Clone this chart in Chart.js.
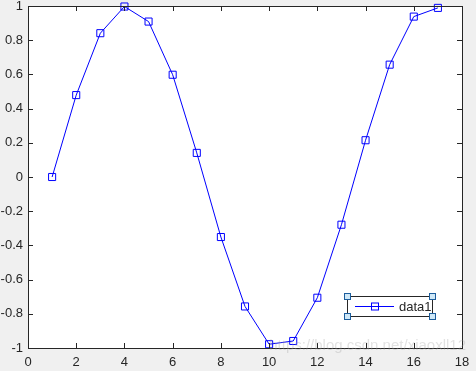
<!DOCTYPE html>
<html>
<head>
<meta charset="utf-8">
<script src="https://cdn.jsdelivr.net/npm/chart.js@4"></script>
<style>
    html, body { margin: 0; padding: 0; background: #f0f0f0; }
    #wrap { width: 476px; height: 371px; }
</style>
</head>
<body>
<div id="wrap"><canvas id="plot" width="476" height="371"></canvas></div>
<script>
// values
const xValues = [1, 2, 3, 4, 5, 6, 7, 8, 9, 10, 11, 12, 13, 14, 15, 16, 17];
const yValues = [0, 0.479, 0.841, 0.997, 0.909, 0.598, 0.141, -0.351, -0.757, -0.978, -0.959, -0.706, -0.279, 0.215, 0.657, 0.938, 0.989];
const xTicks = [0, 2, 4, 6, 8, 10, 12, 14, 16, 18];
const yTicks = [-1, -0.8, -0.6, -0.4, -0.2, 0, 0.2, 0.4, 0.6, 0.8, 1];
const seriesName = 'data1';

const textColor = '#262626';
const lineColor = '#0000ff';

// white axes box + inward ticks on all four sides
const boxPlugin = {
    id: 'box',
    beforeDatasetsDraw(chart) {
        const ctx = chart.ctx;
        const a = chart.chartArea;
        ctx.save();
        ctx.fillStyle = '#ffffff';
        ctx.fillRect(a.left, a.top, a.right - a.left, a.bottom - a.top);
        ctx.restore();
    },
    afterDatasetsDraw(chart) {
        const ctx = chart.ctx;
        const a = chart.chartArea;
        const xs = chart.scales.x;
        const ys = chart.scales.y;
        const len = 5;
        ctx.save();
        ctx.strokeStyle = textColor;
        ctx.lineWidth = 1;
        ctx.beginPath();
        xTicks.forEach(function(v) {
            const px = Math.round(xs.getPixelForValue(v)) + 0.5;
            ctx.moveTo(px, a.bottom); ctx.lineTo(px, a.bottom - len);
            ctx.moveTo(px, a.top); ctx.lineTo(px, a.top + len);
        });
        yTicks.forEach(function(v) {
            const py = Math.round(ys.getPixelForValue(v)) + 0.5;
            ctx.moveTo(a.left, py); ctx.lineTo(a.left + len, py);
            ctx.moveTo(a.right, py); ctx.lineTo(a.right - len, py);
        });
        ctx.stroke();
        ctx.strokeRect(Math.round(a.left) + 0.5, Math.round(a.top) + 0.5,
            Math.round(a.right - a.left), Math.round(a.bottom - a.top));
        ctx.restore();
    }
};

// MATLAB style legend, selected (with corner handles)
const legendPlugin = {
    id: 'matLegend',
    afterDraw(chart) {
        const ctx = chart.ctx;
        const x0 = 347.5, y0 = 296.5, w = 85, h = 20;
        ctx.save();
        ctx.fillStyle = '#ffffff';
        ctx.fillRect(x0, y0, w, h);
        ctx.strokeStyle = '#262626';
        ctx.lineWidth = 1;
        ctx.strokeRect(x0, y0, w, h);

        const my = y0 + h / 2;
        ctx.strokeStyle = lineColor;
        ctx.beginPath();
        ctx.moveTo(355, my); ctx.lineTo(394, my);
        ctx.stroke();
        ctx.strokeRect(371.5, my - 3.5, 7, 7);

        ctx.fillStyle = textColor;
        ctx.font = '13px "Liberation Sans", Arial, sans-serif';
        ctx.textBaseline = 'middle';
        ctx.fillText(seriesName, 399, my + 1);

        ctx.fillStyle = '#cfe8f7';
        ctx.strokeStyle = '#1c5d9c';
        [[x0, y0], [x0 + w, y0], [x0, y0 + h], [x0 + w, y0 + h]].forEach(function(p) {
            ctx.fillRect(p[0] - 3, p[1] - 3, 6, 6);
            ctx.strokeRect(p[0] - 3, p[1] - 3, 6, 6);
        });

        // faint watermark
        ctx.font = '15px "Liberation Sans", Arial, sans-serif';
        ctx.textBaseline = 'alphabetic';
        ctx.textAlign = 'right';
        ctx.fillStyle = 'rgba(160,160,160,0.3)';
        ctx.fillText('https://blog.csdn.net/xiaoxll12', 466, 350);
        ctx.restore();
    }
};

const ctx = document.getElementById('plot');
new Chart(ctx, {
    type: 'line',
    data: {
        datasets: [{
            label: seriesName,
            data: xValues.map(function(x, i) { return { x: x, y: yValues[i] }; }),
            borderColor: lineColor,
            borderWidth: 1,
            backgroundColor: 'rgba(0,0,0,0)',
            pointStyle: 'rect',
            pointRadius: 5,
            pointBorderWidth: 1,
            pointBorderColor: lineColor,
            pointBackgroundColor: 'rgba(0,0,0,0)',
            tension: 0,
            clip: false
        }]
    },
    options: {
        responsive: false,
        animation: false,
        events: [],
        layout: { padding: { left: 0, top: 6, right: 14, bottom: 0 } },
        plugins: {
            legend: { display: false },
            tooltip: { enabled: false }
        },
        scales: {
            x: {
                type: 'linear',
                min: 0,
                max: 18,
                afterBuildTicks(scale) { scale.ticks = xTicks.map(function(v) { return { value: v }; }); },
                afterFit(scale) {
                    scale.height = 23;
                    scale.paddingLeft = 0;
                    scale.paddingRight = 0;
                },
                grid: { display: false, drawTicks: false },
                border: { display: false },
                ticks: {
                    color: textColor,
                    padding: 7,
                    maxRotation: 0,
                    font: { family: '"Liberation Sans", Arial, sans-serif', size: 13 }
                }
            },
            y: {
                type: 'linear',
                min: -1,
                max: 1,
                afterBuildTicks(scale) { scale.ticks = yTicks.map(function(v) { return { value: v }; }); },
                afterFit(scale) {
                    scale.width = 28;
                    scale.paddingTop = 0;
                    scale.paddingBottom = 0;
                },
                grid: { display: false, drawTicks: false },
                border: { display: false },
                ticks: {
                    color: textColor,
                    padding: 5,
                    font: { family: '"Liberation Sans", Arial, sans-serif', size: 13 },
                    callback: function(v) { return String(Math.round(v * 10) / 10); }
                }
            }
        }
    },
    plugins: [boxPlugin, legendPlugin]
});
</script>
</body>
</html>
